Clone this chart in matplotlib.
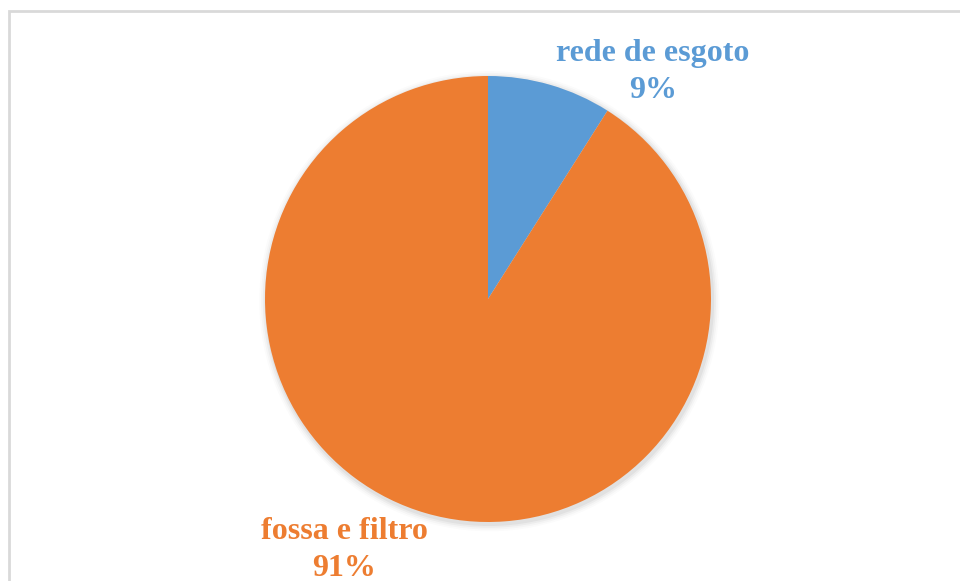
import matplotlib
matplotlib.use("Agg")
import matplotlib.pyplot as plt
from matplotlib.patches import Rectangle, Circle

labels = ["rede de esgoto", "fossa e filtro"]
values = [9, 91]
colors = ["#5B9BD5", "#ED7D31"]

W, H = 960, 581
fig = plt.figure(figsize=(W / 100, H / 100), dpi=100)
fig.patch.set_facecolor("white")

# chart frame, right and bottom edges run off the picture
fig.patches.append(Rectangle((9 / W, -0.05), 1.1, 1 - 11 / H + 0.05,
                             transform=fig.transFigure, fill=False,
                             edgecolor="#D9D9D9", linewidth=2))

# pie sits in a square axes: x 265..711, y 76..522 pixels
ax = fig.add_axes([265 / W, (H - 522) / H, 446 / W, 446 / H])

# soft shadow under the pie
for i, a in enumerate([0.045, 0.035, 0.025, 0.015]):
    ax.add_patch(Circle((0.006, -0.010), 1.0 + 0.008 * (i + 1),
                        facecolor="black", alpha=a, edgecolor="none",
                        zorder=0, clip_on=False))

ax.pie(values, colors=colors, startangle=90, counterclock=False,
       wedgeprops=dict(linewidth=0, zorder=1))
ax.set_xlim(-1, 1)
ax.set_ylim(-1, 1)
ax.set_aspect("equal")
ax.axis("off")

font = dict(family="Liberation Serif", fontweight="bold", fontsize=23,
            ha="center", va="center", linespacing=1.38)
fig.text(653 / W, 1 - 72 / H, f"{labels[0]}\n{values[0]}%", color=colors[0], **font)
fig.text(344 / W, 1 - 550 / H, f"{labels[1]}\n{values[1]}%", color=colors[1], **font)

fig.savefig("out.png", dpi=100)
